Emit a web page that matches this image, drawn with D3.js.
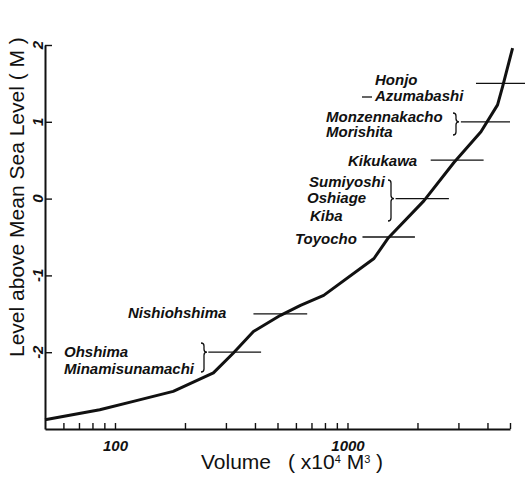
<!DOCTYPE html>
<html>
<head>
<meta charset="utf-8">
<script src="https://cdn.jsdelivr.net/npm/d3@7"></script>
<style>
  body { margin: 0; background: #fff; }
  svg { display: block; }
  .axis path, .axis line { stroke: #111; }
  .tick-label, .station { font-family: "Liberation Sans", Arial, sans-serif; font-style: italic; font-weight: bold; fill: #111; }
  .title { font-family: "Liberation Sans", Arial, sans-serif; fill: #111; }
</style>
</head>
<body>
<script>
// curve: volume (x10^4 m3) below each level (m above mean sea level)
var volume = [50, 86, 120, 178, 265, 323, 394, 515, 628, 790, 1300, 1490, 2130, 2870, 3750, 4420, 4650, 5130];
var level  = [-2.88, -2.75, -2.64, -2.51, -2.27, -2.01, -1.73, -1.52, -1.39, -1.26, -0.78, -0.52, -0.03, 0.47, 0.87, 1.22, 1.46, 1.96];

// stations and the level marker drawn for each group
var stationGroups = [["Ohshima", "Minamisunamachi"], ["Nishiohshima"], ["Toyocho"],
                     ["Sumiyoshi", "Oshiage", "Kiba"], ["Kikukawa"], ["Monzennakacho", "Morishita"], ["Honjo", "Azumabashi"]];
var stationLevel = [-2, -1.5, -0.5, 0, 0.5, 1, 1.5];
var markFrom = [252, 394, 1160, 1610, 2280, 3075, 3570];
var markTo   = [425, 671, 1950, 2730, 3850, 5000, 5860];

var xTicks = [60, 70, 80, 90, 100, 200, 300, 400, 500, 600, 700, 800, 900, 1000, 2000, 3000, 4000, 5000];
var xLabels = [100, 1000];
var yTicks = [-2, -1, 0, 1, 2];

//Label placement (page pixels): [x, baseline] per name
var labelPos = [
	[[64, 357], [64, 374]],
	[[128, 318]],
	[[295, 244]],
	[[309, 187], [307, 203], [310, 221]],
	[[348, 166]],
	[[326, 122], [326, 137]],
	[[375, 85], [375, 101]]
];
//braces: group index -> [x, top, bottom] in pixels
var braces = [[0, 201, 343, 372], [3, 388, 180, 221], [5, 453, 113, 135]];

var width = 525, height = 482;
var svg = d3.select('body').append('svg').attr('width', width).attr('height', height);

var x = d3.scaleLog().domain([50, 5000]).range([45, 510]);
var y = d3.scaleLinear().domain([-3, 2]).range([429, 45]);

//x axis
var xAxis = svg.append('g').attr('class', 'axis')
	.attr('transform', 'translate(0,' + y(-3) + ')')
	.call(d3.axisBottom(x).tickValues(xTicks).tickSizeInner(-6).tickSizeOuter(0).tickPadding(11)
		.tickFormat(function(d) { return xLabels.indexOf(d) >= 0 ? d : ''; }));
xAxis.select('.domain').attr('stroke-width', 2);
xAxis.selectAll('.tick line').attr('stroke-width', 1.4);
xAxis.selectAll('text').attr('class', 'tick-label').style('font-size', '15px').attr('fill', '#111');

//y axis
var yAxis = svg.append('g').attr('class', 'axis')
	.attr('transform', 'translate(' + x(50) + ',0)')
	.call(d3.axisLeft(y).tickValues(yTicks).tickSizeInner(-7).tickSizeOuter(0).tickFormat(''));
yAxis.select('.domain').attr('stroke-width', 2);
yAxis.selectAll('.tick line').attr('stroke-width', 1.4);
svg.selectAll('.ylab').data(yTicks).enter().append('text')
	.attr('class', 'tick-label')
	.style('font-size', '15px')
	.attr('text-anchor', 'middle')
	.attr('transform', function(d) { return 'translate(43,' + y(d) + ') rotate(-90)'; })
	.text(function(d) { return d; });

//titles
svg.append('text').attr('class', 'title').style('font-size', '21px')
	.attr('transform', 'translate(24,357) rotate(-90)')
	.text('Level above Mean Sea Level ( M )');
svg.append('text').attr('class', 'title').style('font-size', '21px')
	.attr('x', 201).attr('y', 469).text('Volume');
var unit = svg.append('text').attr('class', 'title').style('font-size', '21px')
	.attr('x', 288).attr('y', 469);
unit.append('tspan').text('( x10');
unit.append('tspan').attr('dy', -6).style('font-size', '11px').text('4');
unit.append('tspan').attr('dy', 6).text(' M');
unit.append('tspan').attr('dy', -6).style('font-size', '11px').text('3');
unit.append('tspan').attr('dy', 6).text(' )');

//level markers
svg.append('g').selectAll('line').data(stationLevel).enter().append('line')
	.attr('x1', function(d, i) { return x(markFrom[i]); })
	.attr('x2', function(d, i) { return x(markTo[i]); })
	.attr('y1', function(d) { return y(d); })
	.attr('y2', function(d) { return y(d); })
	.attr('stroke', '#111').attr('stroke-width', 1.3);

//braces
svg.append('g').selectAll('path').data(braces).enter().append('path')
	.attr('fill', 'none').attr('stroke', '#111').attr('stroke-width', 1.3)
	.attr('d', function(b) {
		var bx = b[1], t = b[2], bt = b[3], m = y(stationLevel[b[0]]);
		return 'M' + bx + ',' + t + ' Q' + (bx + 3) + ',' + t + ' ' + (bx + 3) + ',' + (t + 3) +
			' V' + (m - 3) + ' Q' + (bx + 3) + ',' + m + ' ' + (bx + 6) + ',' + m +
			' Q' + (bx + 3) + ',' + m + ' ' + (bx + 3) + ',' + (m + 3) +
			' V' + (bt - 3) + ' Q' + (bx + 3) + ',' + bt + ' ' + bx + ',' + bt;
	});
//dash before Azumabashi
svg.append('line').attr('x1', 362).attr('x2', 372).attr('y1', 97).attr('y2', 97)
	.attr('stroke', '#111').attr('stroke-width', 1.3);

//station names
stationGroups.forEach(function(g, gi) {
	g.forEach(function(name, ni) {
		svg.append('text').attr('class', 'station').style('font-size', '15px')
			.attr('x', labelPos[gi][ni][0]).attr('y', labelPos[gi][ni][1])
			.text(name);
	});
});

//curve
var line = d3.line()
	.x(function(d, i) { return x(volume[i]); })
	.y(function(d) { return y(d); });
svg.append('path').datum(level)
	.attr('fill', 'none').attr('stroke', '#111').attr('stroke-width', 3)
	.attr('stroke-linejoin', 'round')
	.attr('d', line);
</script>
</body>
</html>
